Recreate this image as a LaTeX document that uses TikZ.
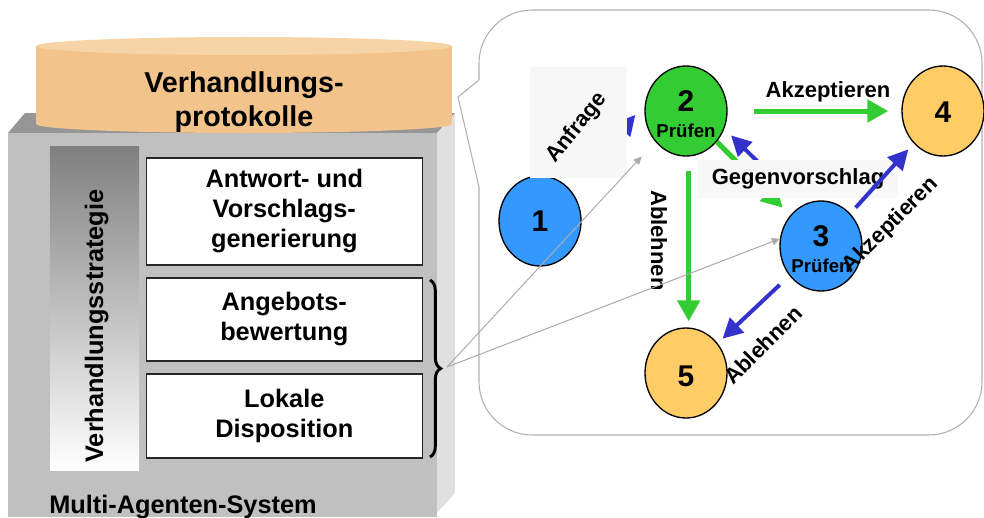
\documentclass[tikz,border=0pt]{standalone}
\usepackage{fontspec}
\setmainfont{Liberation Sans}
\usetikzlibrary{arrows.meta,shapes.geometric,decorations.pathreplacing}
\definecolor{agentblue}{RGB}{51,153,255}
\definecolor{agentgreen}{RGB}{51,204,51}
\definecolor{agentorange}{RGB}{255,204,102}
\definecolor{arrowblue}{RGB}{51,51,204}
\definecolor{cylbody}{RGB}{242,196,140}
\definecolor{cyltop}{RGB}{246,212,166}
\definecolor{boxfront}{RGB}{192,192,192}
\definecolor{boxtop}{RGB}{150,150,150}
\definecolor{boxside}{RGB}{224,224,224}
\definecolor{labelbg}{RGB}{247,247,247}
\definecolor{calloutgray}{RGB}{176,176,176}

\begin{document}
\begin{tikzpicture}[x=0.75pt,y=-0.75pt,
  agent/.style={ellipse,draw=black,line width=1pt,minimum width=61.5pt,minimum height=67.5pt,inner sep=0pt},
  zahl/.style={font=\fontsize{22.5}{24}\selectfont\bfseries,inner sep=0pt},
  pruef/.style={font=\fontsize{14}{16}\selectfont\bfseries,inner sep=0pt},
  schrift/.style={font=\fontsize{16.5}{18}\selectfont\bfseries,inner sep=0pt},
  modul/.style={draw=black!85,line width=0.8pt,fill=white,minimum width=206.6pt,inner sep=0pt,align=center,font=\fontsize{19}{22.5}\selectfont\bfseries},
  callout/.style={draw=calloutgray,line width=0.8pt},
  gruen/.style={draw=agentgreen,line width=3.75pt,-{Triangle[length=15.75pt,width=16.5pt]}},
  blau/.style={draw=arrowblue,line width=3pt,-{Triangle[length=15pt,width=15pt]}},
  grau/.style={draw=black!33,line width=0.75pt,-{Triangle[length=6pt,width=5.5pt]}}]
\useasboundingbox (0,0) rectangle (984,517);
% Agentenblock
\fill[boxtop] (8,133) -- (25,113) -- (455,113) -- (437,133) -- cycle;
\fill[boxside] (437,133) -- (455,113) -- (455,493) -- (437,513) -- cycle;
\fill[boxfront] (8,133) rectangle (437,517);
\fill[cylbody] (36,46) rectangle (452,124);
\fill[cylbody] (244,124) ellipse [x radius=208,y radius=9];
\fill[cyltop] (244,46) ellipse [x radius=208,y radius=9];
\node[align=center,inner sep=0pt,font=\fontsize{21.5}{25.5}\selectfont\bfseries] (prot) at (244,102.5) {Verhandlungs-\\protokolle};
\shade[top color=black!50,bottom color=white,middle color=black!25] (50,146) rectangle (139,470);
\node[rotate=90,anchor=base,inner sep=0pt,font=\fontsize{19}{22.5}\selectfont\bfseries] (strat) at (103,326) {Verhandlungsstrategie};
\node[modul,minimum height=80.25pt] (antwort) at (284.3,211.5) {Antwort- und\\Vorschlags-\\generierung};
\node[modul,minimum height=62.25pt] (angebot) at (284.3,319.5) {Angebots-\\bewertung};
\node[modul,minimum height=63pt] (lokal) at (284.3,416) {Lokale\\Disposition};
\coordinate (klo) at (430,280);
\coordinate (klu) at (430,457);
\coordinate (spitze) at (447,367);
\draw[line width=2.2pt,decorate,decoration={brace,amplitude=8pt}] (klo) -- (klu);
\node[anchor=base west,inner sep=0pt,font=\fontsize{19}{22.5}\selectfont\bfseries] (mas) at (49,513) {Multi-Agenten-System};
% Sprechblase
\draw[callout] (479,80) -- (458,97) -- (479,187);
\draw[callout,rounded corners=40pt] (479,187) -- (479,435) -- (982,435) -- (982,10) -- (479,10) -- (479,80);
% Protokoll
\foreach \i/\x/\y/\c in {1/540/221/agentblue,2/686/111/agentgreen,3/821/246/agentblue,4/943/111/agentorange,5/686/373/agentorange}
{       \node[agent,fill=\c] (n\i) at (\x,\y) {};
}
\foreach \i/\dy in {1/0,2/7.5,3/7,4/-1,5/-2.25}
{       \node[zahl] (z\i) at ([yshift=\dy pt]n\i.center) {\i};
}
\foreach \i in {2,3}
{       \node[pruef] (p\i) at ([yshift=-15pt]n\i.center) {Prüfen};
}
\draw[blau,shorten <=15pt,shorten >=11pt] (n1.45) -- (n2.170);
\draw[gruen,shorten >=8pt] (n2.-45) -- (n3.135);
\draw[blau,shorten <=12pt,shorten >=7pt] (n3.115) -- (n2.-25);
\node[fill=labelbg,minimum width=72.75pt,minimum height=83.25pt,inner sep=0pt] (anfbox) at (578.5,122.5) {};
\node[schrift,rotate=51] (anf) at (577,128) {Anfrage};
\node[schrift,fill=labelbg,minimum width=150pt,minimum height=28.5pt] (gegen) at (798,179) {Gegenvorschlag};
\draw[gruen,shorten <=19.5pt,shorten >=9.75pt] (n2) -- (n4);
\draw[gruen,shorten <=11pt,shorten >=4.5pt] ([xshift=2pt]n2.south) -- ([xshift=2pt]n5.north);
\draw[blau,shorten <=6pt,shorten >=6pt] (n3) -- (n4);
\draw[blau,shorten <=10pt,shorten >=5pt] (n3) -- (n5);
\node[schrift,anchor=base] (akz) at (828,97) {Akzeptieren};
\node[schrift,rotate=45] (akz3) at (891,225) {Akzeptieren};
\node[schrift,rotate=45] (abl5) at (763,345) {Ablehnen};
\begin{scope}
\clip (640,180) rectangle (680,288);
\node[schrift,rotate=-90,anchor=base west] (abl2) at (651,190) {Ablehnen};
\end{scope}
\draw[grau,shorten >=15pt] (spitze) -- (n2.225);
\draw[grau] (spitze) -- (n3.170);
\end{tikzpicture}
\end{document}
